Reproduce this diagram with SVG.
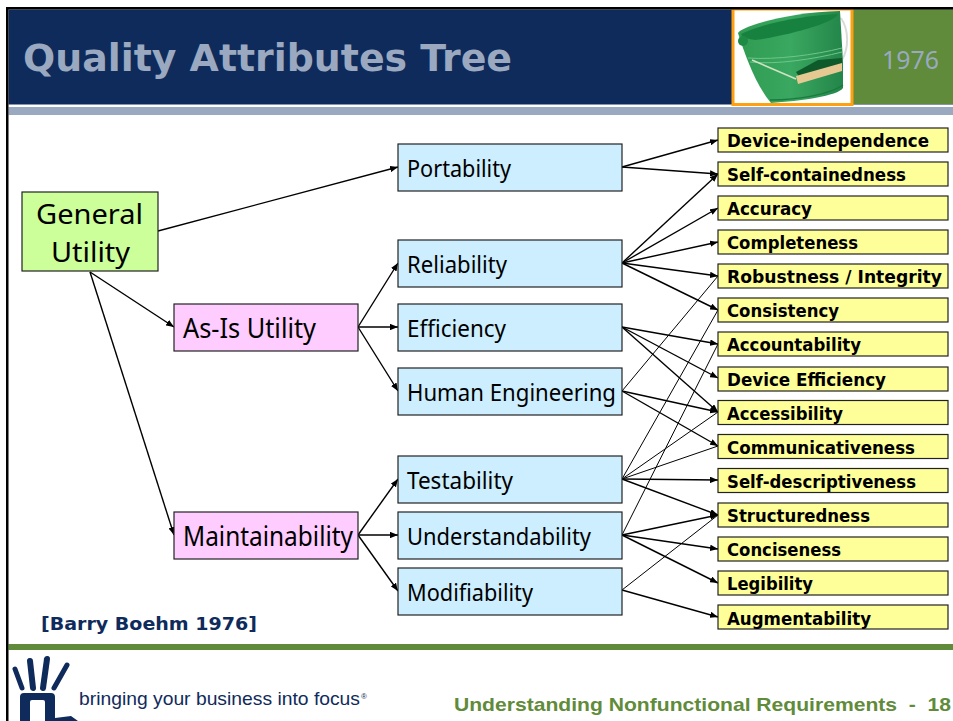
<svg xmlns="http://www.w3.org/2000/svg" width="953" height="721" viewBox="0 0 953 721">
<style>
.box{stroke:#222;stroke-width:1.2}
.g{fill:#ccff99}.p{fill:#ffccff}.b{fill:#cceeff}.y{fill:#ffff99}
.big{font:28px "Noto Sans","DejaVu Sans",sans-serif;fill:#000}
.mid{font:23px "Noto Sans","DejaVu Sans",sans-serif;fill:#000}
.t{font:bold 17px "DejaVu Sans",sans-serif;fill:#000}
#connectors line{stroke:#000;stroke-width:1;fill:none}
#connectors line.a{stroke-width:1.4;marker-end:url(#arr)}
</style>
<defs>
<marker id="arr" viewBox="0 0 10 8" refX="10" refY="4" markerWidth="8" markerHeight="6.4" markerUnits="userSpaceOnUse" orient="auto"><path d="M0 0L10 4L0 8z" fill="#000"/></marker>
<clipPath id="logo"><rect x="8" y="650" width="72" height="71"/></clipPath>
<linearGradient id="bk" x1="0" y1="0" x2="1" y2="0"><stop offset="0" stop-color="#2f9a52"/><stop offset="0.5" stop-color="#3aa860"/><stop offset="1" stop-color="#23854a"/></linearGradient>
</defs>
<rect width="953" height="721" fill="#fff"/>
<g id="frame">
<rect x="8.500" y="9.500" width="945" height="95" fill="#0f2b5b"/>
<rect x="853" y="9.500" width="100" height="94.500" fill="#5f8b3a"/>
<rect x="8.500" y="107" width="945" height="8" fill="#9aa9c0"/>
<rect x="8.500" y="644" width="945" height="6" fill="#5f8b3a"/>
</g>
<text x="23" y="71" style="font:bold 37px 'DejaVu Sans',sans-serif;fill:#9aa9c0" textLength="489" lengthAdjust="spacingAndGlyphs">Quality Attributes Tree</text>
<text x="882" y="69" style="font:25px 'Noto Sans','DejaVu Sans',sans-serif;fill:#9aa9c0" textLength="57" lengthAdjust="spacingAndGlyphs">1976</text>
<g id="bucket">
<rect x="733" y="9" width="119" height="95.500" fill="#fff" stroke="#ffa010" stroke-width="3"/>
<path d="M841 18C849 30 849 48 842 60" fill="none" stroke="#d8dcd8" stroke-width="2"/>
<path d="M738 33C742 26 790 12 840 11L843 62L843 88C838 96 800 101 771 103C756 85 746 58 738 33z" fill="url(#bk)"/>
<path d="M741 34C765 22 810 15 838 14C835 24 775 38 755 40C747 39 742 37 741 34z" fill="#17823f"/>
<path d="M748 58C775 60 815 55 842 48M750 62C775 65 815 59 842 52" fill="none" stroke="#6fc58a" stroke-width="1"/>
<path d="M770 100C800 100 830 94 843 85" fill="none" stroke="#1b7a40" stroke-width="1.500"/>
<path d="M796 72L818 60L842 58L842 64L800 78z" fill="#0f5a2b"/>
<path d="M796 76L842 63L842 71L798 84z" fill="#e6c992"/>
<path d="M752 60L796 79" stroke="#cfe3c5" stroke-width="1.500" fill="none"/>
<circle cx="743" cy="41" r="5" fill="#1f8a44"/>
</g>
<g id="frameTop">
<rect x="6" y="7" width="947" height="2.500" fill="#000"/>
<rect x="6" y="7" width="2.500" height="714" fill="#000"/>
</g>
<g id="connectors">
<line class="a" x1="158" y1="231" x2="398" y2="167"/>
<line class="a" x1="90" y1="272" x2="174" y2="327"/>
<line class="a" x1="90" y1="272" x2="174" y2="535"/>
<line class="a" x1="358" y1="327" x2="398" y2="263"/>
<line class="a" x1="358" y1="327" x2="398" y2="327"/>
<line class="a" x1="358" y1="327" x2="398" y2="391"/>
<line class="a" x1="358" y1="535" x2="398" y2="479"/>
<line class="a" x1="358" y1="535" x2="398" y2="535"/>
<line class="a" x1="358" y1="535" x2="398" y2="591"/>
<line class="a" x1="622" y1="167" x2="718" y2="140"/>
<line class="a" x1="622" y1="167" x2="718" y2="174"/>
<line class="a" x1="622" y1="263" x2="718" y2="174"/>
<line class="a" x1="622" y1="263" x2="718" y2="208"/>
<line class="a" x1="622" y1="263" x2="718" y2="242"/>
<line class="a" x1="622" y1="263" x2="718" y2="276"/>
<line class="a" x1="622" y1="263" x2="718" y2="310"/>
<line class="a" x1="622" y1="327" x2="718" y2="344"/>
<line class="a" x1="622" y1="327" x2="718" y2="378"/>
<line class="a" x1="622" y1="327" x2="718" y2="412"/>
<line x1="622" y1="391" x2="718" y2="276"/>
<line class="a" x1="622" y1="391" x2="718" y2="412"/>
<line class="a" x1="622" y1="391" x2="718" y2="446"/>
<line x1="622" y1="479" x2="718" y2="310"/>
<line x1="622" y1="479" x2="718" y2="412"/>
<line x1="622" y1="479" x2="718" y2="446"/>
<line class="a" x1="622" y1="479" x2="718" y2="480"/>
<line class="a" x1="622" y1="479" x2="718" y2="515"/>
<line x1="622" y1="535" x2="718" y2="344"/>
<line class="a" x1="622" y1="535" x2="718" y2="515"/>
<line class="a" x1="622" y1="535" x2="718" y2="549"/>
<line class="a" x1="622" y1="535" x2="718" y2="583"/>
<line x1="622" y1="590" x2="718" y2="515"/>
<line class="a" x1="622" y1="590" x2="718" y2="617"/>
</g>
<g id="general"><rect class="box g" x="22" y="192" width="136" height="79"/><text class="big" x="36" y="224" textLength="107" lengthAdjust="spacingAndGlyphs">General</text><text class="big" x="51" y="262" textLength="79" lengthAdjust="spacingAndGlyphs">Utility</text></g>
<g id="asis"><rect class="box p" x="174" y="304" width="184" height="47"/><text class="big" x="183" y="338" textLength="133" lengthAdjust="spacingAndGlyphs">As-Is Utility</text></g>
<g id="maintainability"><rect class="box p" x="174" y="512" width="184" height="47"/><text class="big" x="183" y="546" textLength="170" lengthAdjust="spacingAndGlyphs">Maintainability</text></g>
<g id="portability"><rect class="box b" x="398" y="144" width="224" height="47"/><text class="mid" x="407" y="177" textLength="104" lengthAdjust="spacingAndGlyphs">Portability</text></g>
<g id="reliability"><rect class="box b" x="398" y="240" width="224" height="47"/><text class="mid" x="407" y="273" textLength="100" lengthAdjust="spacingAndGlyphs">Reliability</text></g>
<g id="efficiency"><rect class="box b" x="398" y="304" width="224" height="47"/><text class="mid" x="407" y="337" textLength="99" lengthAdjust="spacingAndGlyphs">Efficiency</text></g>
<g id="human"><rect class="box b" x="398" y="368" width="224" height="47"/><text class="mid" x="407" y="401" textLength="209" lengthAdjust="spacingAndGlyphs">Human Engineering</text></g>
<g id="testability"><rect class="box b" x="398" y="456" width="224" height="47"/><text class="mid" x="407" y="489" textLength="106" lengthAdjust="spacingAndGlyphs">Testability</text></g>
<g id="understandability"><rect class="box b" x="398" y="512" width="224" height="47"/><text class="mid" x="407" y="545" textLength="184" lengthAdjust="spacingAndGlyphs">Understandability</text></g>
<g id="modifiability"><rect class="box b" x="398" y="568" width="224" height="47"/><text class="mid" x="407" y="601" textLength="126" lengthAdjust="spacingAndGlyphs">Modifiability</text></g>
<g id="q1"><rect class="box y" x="718" y="128" width="230" height="24"/><text class="t" x="727" y="147" textLength="202" lengthAdjust="spacingAndGlyphs">Device-independence</text></g>
<g id="q2"><rect class="box y" x="718" y="162" width="230" height="24"/><text class="t" x="727" y="181" textLength="179" lengthAdjust="spacingAndGlyphs">Self-containedness</text></g>
<g id="q3"><rect class="box y" x="718" y="196" width="230" height="24"/><text class="t" x="727" y="215" textLength="85" lengthAdjust="spacingAndGlyphs">Accuracy</text></g>
<g id="q4"><rect class="box y" x="718" y="230" width="230" height="24"/><text class="t" x="727" y="249" textLength="131" lengthAdjust="spacingAndGlyphs">Completeness</text></g>
<g id="q5"><rect class="box y" x="718" y="264" width="230" height="24"/><text class="t" x="727" y="283" textLength="215" lengthAdjust="spacingAndGlyphs">Robustness / Integrity</text></g>
<g id="q6"><rect class="box y" x="718" y="298" width="230" height="24"/><text class="t" x="727" y="317" textLength="112" lengthAdjust="spacingAndGlyphs">Consistency</text></g>
<g id="q7"><rect class="box y" x="718" y="332" width="230" height="24"/><text class="t" x="727" y="351" textLength="134" lengthAdjust="spacingAndGlyphs">Accountability</text></g>
<g id="q8"><rect class="box y" x="718" y="367" width="230" height="24"/><text class="t" x="727" y="386" textLength="159" lengthAdjust="spacingAndGlyphs">Device Efficiency</text></g>
<g id="q9"><rect class="box y" x="718" y="400.500" width="230" height="24"/><text class="t" x="727" y="420" textLength="116" lengthAdjust="spacingAndGlyphs">Accessibility</text></g>
<g id="q10"><rect class="box y" x="718" y="434.500" width="230" height="24"/><text class="t" x="727" y="454" textLength="188" lengthAdjust="spacingAndGlyphs">Communicativeness</text></g>
<g id="q11"><rect class="box y" x="718" y="468.500" width="230" height="24"/><text class="t" x="727" y="488" textLength="189" lengthAdjust="spacingAndGlyphs">Self-descriptiveness</text></g>
<g id="q12"><rect class="box y" x="718" y="503" width="230" height="24"/><text class="t" x="727" y="522" textLength="143" lengthAdjust="spacingAndGlyphs">Structuredness</text></g>
<g id="q13"><rect class="box y" x="718" y="537" width="230" height="24"/><text class="t" x="727" y="556" textLength="114" lengthAdjust="spacingAndGlyphs">Conciseness</text></g>
<g id="q14"><rect class="box y" x="718" y="571" width="230" height="24"/><text class="t" x="727" y="590" textLength="86" lengthAdjust="spacingAndGlyphs">Legibility</text></g>
<g id="q15"><rect class="box y" x="718" y="605" width="230" height="24"/><text class="t" x="727" y="625" textLength="144" lengthAdjust="spacingAndGlyphs">Augmentability</text></g>
<text x="41" y="630" style="font:bold 18px 'DejaVu Sans',sans-serif;fill:#0f2b5b" textLength="216" lengthAdjust="spacingAndGlyphs">[Barry Boehm 1976]</text>
<g id="logomark" clip-path="url(#logo)">
<g stroke="#0f2b5b" stroke-linecap="round" fill="none">
<path d="M15 669L22 688" stroke-width="5"/>
<path d="M30 661L33 688" stroke-width="6"/>
<path d="M47 659L43 688" stroke-width="6"/>
<path d="M67 665L54 688" stroke-width="5"/>
</g>
<path fill="#0f2b5b" d="M20 721V697Q20 693 24 693H51Q55 693 55 697V718L71 716L78 721ZM30 721H45V702Q45 700 43 700H32Q30 700 30 702Z" fill-rule="evenodd"/>
</g>
<text x="79" y="705" style="font:19px 'Liberation Sans',sans-serif;fill:#0f2b5b" textLength="281" lengthAdjust="spacingAndGlyphs">bringing your business into focus</text>
<text x="361" y="699" style="font:8px 'Liberation Sans',sans-serif;fill:#0f2b5b">®</text>
<text x="454" y="711" xml:space="preserve" style="font:bold 19px 'Liberation Sans',sans-serif;fill:#5f8b3a" textLength="497" lengthAdjust="spacingAndGlyphs">Understanding Nonfunctional Requirements  -  18</text>
</svg>
